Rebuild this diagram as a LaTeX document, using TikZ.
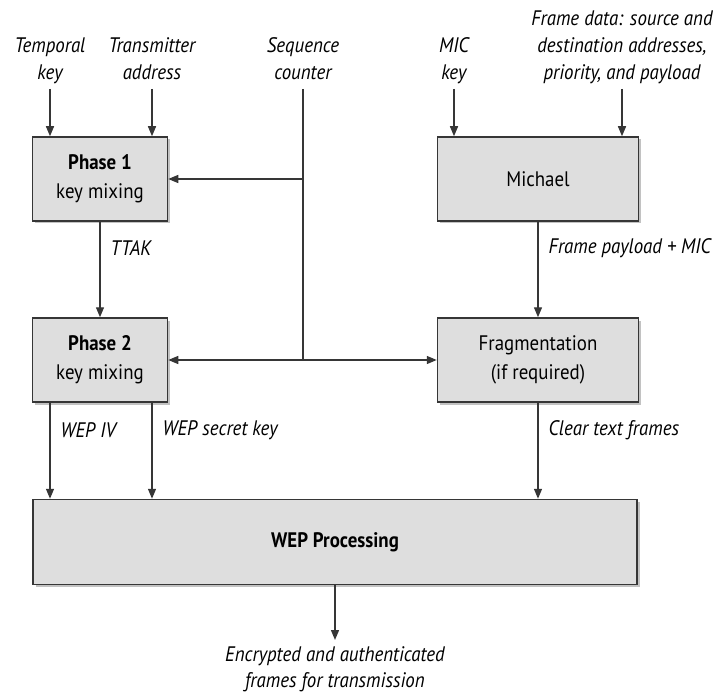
\documentclass[tikz,border=0pt]{standalone}
\usepackage{fontspec}
\setmainfont{PT Sans}[FakeStretch=0.9]
\usetikzlibrary{arrows.meta,positioning,shadows}
\definecolor{wepFill}{HTML}{DEDEDE}
\definecolor{wepLine}{HTML}{363636}
\definecolor{wepShadow}{HTML}{9A9A9A}
\begin{document}
\begin{tikzpicture}[x=1pt,y=-1pt,font=\fontsize{21}{29}\selectfont,
  >={Triangle[length=10pt,width=8pt]},
  box/.style={draw=wepLine,line width=1.5pt,fill=wepFill,align=center,inner sep=0pt,
              drop shadow={shadow xshift=2.5pt,shadow yshift=-2.5pt,fill=wepShadow,opacity=0.6}},
  inlabel/.style={font=\fontsize{21}{27}\selectfont\itshape,align=center,anchor=south,
                  inner sep=1pt,execute at end node=\strut},
  lab/.style={font=\fontsize{21}{26}\selectfont\itshape,inner sep=2pt},
  flow/.style={->,draw=wepLine,line width=1.4pt},
  wire/.style={draw=wepLine,line width=1.4pt}]
\useasboundingbox (0,0) rectangle (720,695);

% processing boxes
\node[box,minimum width=135pt,minimum height=84pt] (phase1) at (100,179) {\textbf{Phase 1}\\key mixing};
\node[box,minimum width=135pt,minimum height=84pt] (phase2) at (100,360) {\textbf{Phase 2}\\key mixing};
\node[box,minimum width=201pt,minimum height=84pt] (michael) at (538,179) {Michael};
\node[box,minimum width=201pt,minimum height=84pt] (frag) at (538,360) {Fragmentation\\(if required)};
\node[box,minimum width=604pt,minimum height=85pt] (wep) at (335,542) {\textbf{WEP Processing}};

% inputs
\node[inlabel] (tkey) at (50,89) {Temporal\\key};
\node[inlabel] (taddr) at (152,89) {Transmitter\\address};
\node[inlabel] (seq) at (303,89) {Sequence\\counter};
\node[inlabel] (mickey) at (454,89) {MIC\\key};
\node[inlabel] (fdata) at (622,89) {Frame data: source and\\destination addresses,\\priority, and payload};
\node[lab,anchor=north,align=center] (out) at (335,644) {Encrypted and authenticated\\frames for transmission};

\draw[flow] (tkey.south) -- (tkey.south |- phase1.north);
\draw[flow] (taddr.south) -- (taddr.south |- phase1.north);
\draw[flow] (mickey.south) -- (mickey.south |- michael.north);
\draw[flow] (fdata.south) -- (fdata.south |- michael.north);

% sequence counter feeds
\draw[wire] (seq.south) -- (seq.south |- phase2.east);
\draw[flow] (seq.south |- phase1.east) -- (phase1.east);
\draw[flow] (seq.south |- phase2.east) -- (phase2.east);
\draw[flow] (seq.south |- frag.west) -- (frag.west);

% inner flows
\draw[flow] (phase1) -- (phase2) node[lab,pos=.28,right=8pt] {TTAK};
\draw[flow] (michael) -- (frag) node[lab,pos=.28,right=8pt] {Frame payload + MIC};
\draw[flow] (phase2.south -| tkey.south) -- (wep.north -| tkey.south) node[lab,pos=.29,right=8pt] {WEP IV};
\draw[flow] (phase2.south -| taddr.south) -- (wep.north -| taddr.south) node[lab,pos=.29,right=8pt] {WEP secret key};
\draw[flow] (frag) -- (frag |- wep.north) node[lab,pos=.29,right=8pt] {Clear text frames};
\draw[flow] (wep) -- ([yshift=4pt]out.north);
\end{tikzpicture}
\end{document}
